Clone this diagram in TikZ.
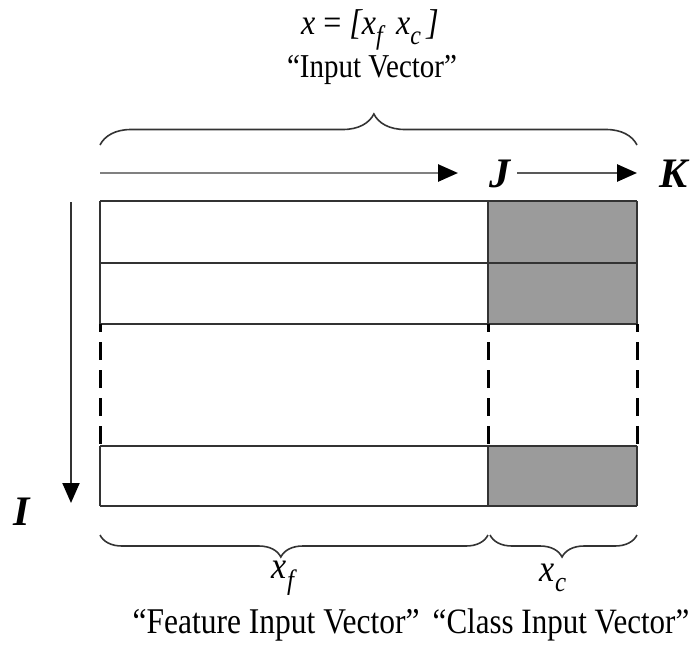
\documentclass[tikz,border=0pt]{standalone}
\usepackage{fontspec}
\setmainfont{Liberation Serif}
\usetikzlibrary{arrows.meta,decorations.pathreplacing}
\definecolor{classgray}{HTML}{9B9B9B}
\definecolor{framegray}{HTML}{333333}
\begin{document}
\begin{tikzpicture}[x=1pt,y=-1pt,
  frame/.style={draw=framegray,line width=2pt},
  gapline/.style={draw=black,line width=3pt,dash pattern=on 18pt off 10pt,dash phase=10pt},
  cbrace/.style={decorate,decoration={brace,amplitude=#1},draw=black!80,line width=1.6pt},
  idxarrow/.style={line width=2.6pt,-{Triangle[length=20pt,width=17pt,color=black]}},
  idxlabel/.style={font=\fontsize{42}{44}\selectfont\bfseries\itshape,inner sep=0pt},
  caption/.style={inner sep=0pt},
  sublabel/.style={inner sep=0pt}
]
\useasboundingbox (0,0) rectangle (692,645);

% table corners
\coordinate (tl) at (100,201);
\coordinate (tm) at (488,201);
\coordinate (tr) at (637,201);
\coordinate (bl) at (100,506);
\coordinate (bm) at (488,506);
\coordinate (br) at (637,506);

% shaded class cells
\fill[classgray] (488,201) rectangle (637,324);
\fill[classgray] (488,446) rectangle (637,506);

% horizontal row borders
\foreach \yy in {201,263,324,446,506}
  \draw[frame] (100,\yy) -- (637,\yy);
% solid verticals, dashed across the elided rows
\foreach \xx in {100,488,637}{
  \draw[frame] (\xx,201) -- (\xx,324);
  \draw[frame] (\xx,446) -- (\xx,506);
  \draw[gapline] (\xx,324) -- (\xx,446);
}

% index arrows
\coordinate (a1s) at (100,173);
\coordinate (a1e) at (458,173);
\coordinate (a2s) at (517,173);
\coordinate (a2e) at (637,173);
\coordinate (a3s) at (71,202);
\coordinate (a3e) at (71,503);
\draw[idxarrow,draw=black!50] (a1s) -- (a1e);
\draw[idxarrow,draw=black!65] (a2s) -- (a2e);
\draw[idxarrow,draw=black!80,line width=2pt] (a3s) -- (a3e);

\node[idxlabel] (J) at (500,174) {J};
\node[idxlabel] (K) at (673,174) {K};
\node[idxlabel] (I) at (22,512) {I};

% braces
\draw[cbrace=31pt,decoration={aspect=0.51}] (100,145) -- (637,145);
\draw[cbrace=22pt,decoration={aspect=0.534}] (488,535) -- (100,535);
\draw[cbrace=22pt,decoration={aspect=0.51}] (637,535) -- (490,535);

% labels
\node[caption] (xvec) at (370,30) {\scalebox{1}[1.12]{\fontsize{32}{34}\selectfont
  \textit{x} = \textit{[x\raisebox{-0.28em}{\fontsize{24}{24}\selectfont f}\,
  x\raisebox{-0.28em}{\fontsize{24}{24}\selectfont c}\,]}}};
\node[caption] (invec) at (372,70) {\scalebox{1}[1.15]{\fontsize{29}{31}\selectfont “Input Vector”}};

\node[sublabel] (xf) at (283,578) {\scalebox{1}[1.12]{\fontsize{34}{36}\selectfont
  \textit{x\raisebox{-0.28em}{\fontsize{25}{25}\selectfont f}}}};
\node[sublabel] (xc) at (553,578) {\scalebox{1}[1.12]{\fontsize{34}{36}\selectfont
  \textit{x\raisebox{-0.28em}{\fontsize{25}{25}\selectfont c}}}};

\node[caption] (fvec) at (276,625) {\scalebox{1}[1.15]{\fontsize{31.5}{33}\selectfont “Feature Input Vector”}};
\node[caption] (cvec) at (561,625) {\scalebox{1}[1.15]{\fontsize{31}{33}\selectfont “Class Input Vector”}};
\end{tikzpicture}
\end{document}
